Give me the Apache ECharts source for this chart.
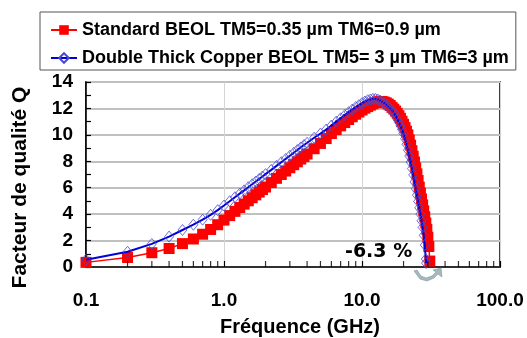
<!DOCTYPE html>
<html>
<head>
<meta charset="utf-8">
<script src="https://cdn.jsdelivr.net/npm/echarts@6/dist/echarts.min.js"></script>
<style>
html,body{margin:0;padding:0;background:#fff;}
#chart{width:527px;height:338px;}
</style>
</head>
<body>
<div id="chart"></div>
<script>
// ---- data ----
const seriesNames = [
  'Standard BEOL TM5=0.35 µm TM6=0.9 µm',
  'Double Thick Copper BEOL TM5= 3 µm TM6=3 µm'
];
const freqStd = [0.1,0.2,0.3,0.4,0.5,0.6,0.7,0.8,0.9,1.0,1.1,1.2,1.3,1.4,1.5,1.6,1.7,1.8,1.9,2.0,
  2.2,2.4,2.6,2.8,3.0,3.2,3.4,3.6,3.8,4.0,4.5,5,5.5,6,6.5,7,7.5,8,8.5,9,9.5,10,
  10.5,11,11.5,12,12.5,13,13.5,14,14.5,15,15.5,16,16.5,17,17.5,18,18.5,19,19.5,20,
  20.5,21,21.5,22,22.5,23,23.5,24,24.5,25,25.5,26,26.5,27,27.5,28,28.5,29,29.5,30,30.5,31];
const qStd = [0.35,0.72,1.08,1.40,1.77,2.12,2.48,2.84,3.2,3.55,3.89,4.21,4.5,4.76,5.01,5.24,5.46,5.67,5.86,6.05,
  6.39,6.71,7.0,7.26,7.51,7.74,7.96,8.17,8.36,8.55,8.95,9.35,9.72,10.1,10.4,10.68,10.93,11.16,11.37,11.56,11.73,11.88,
  12.02,12.14,12.25,12.35,12.43,12.5,12.53,12.52,12.48,12.42,12.33,12.22,12.08,11.95,11.8,11.63,11.45,11.25,11.03,10.8,
  10.55,10.28,10.0,9.62,9.22,8.8,8.38,7.95,7.5,7.05,6.55,6.05,5.6,5.15,4.7,4.25,3.8,3.33,2.85,2.25,1.55,0.45];
const freqDtc = [0.1,0.2,0.3,0.4,0.5,0.6,0.7,0.8,0.9,1.0,1.1,1.2,1.3,1.4,1.5,1.6,1.7,1.8,1.9,2.0,
  2.2,2.4,2.6,2.8,3.0,3.2,3.4,3.6,3.8,4.0,4.5,5,5.5,6,6.5,7,7.5,8,8.5,9,9.5,10,
  10.5,11,11.5,12,12.5,13,13.5,14,14.5,15,15.5,16,16.5,17,17.5,18,18.5,19,19.5,20,
  20.5,21,21.5,22,22.5,23,23.5,24,24.5,25,25.5,26,26.5,27,27.5,28,28.5,29,29.1];
const qDtc = [0.55,1.15,1.75,2.3,2.8,3.2,3.58,3.95,4.3,4.65,4.98,5.28,5.55,5.8,6.04,6.26,6.47,6.67,6.85,7.03,
  7.35,7.65,7.93,8.18,8.42,8.64,8.85,9.05,9.23,9.4,9.78,10.1,10.4,10.7,11.0,11.25,11.5,11.72,11.92,12.1,12.25,12.4,
  12.52,12.62,12.68,12.72,12.72,12.68,12.6,12.5,12.4,12.28,12.15,12.0,11.86,11.7,11.45,11.2,10.95,10.68,10.4,10.1,
  9.71,9.29,8.84,8.4,7.94,7.45,6.97,6.44,5.92,5.44,4.96,4.48,4.0,3.5,3.0,2.4,1.66,0.6,0.3];
const xMinorTickValues = [0.2,0.3,0.4,0.5,0.6,0.7,0.8,0.9,2,3,4,5,6,7,8,9,20,30,40,50,60,70,80,90];
const xTickLabels = {0.1:'0.1', 1:'1.0', 10:'10.0', 100:'100.0'};
const annotationText = '-6.3 %';
const xName = 'Fréquence (GHz)';
const yName = 'Facteur de qualité Q';

const FONT = '"Liberation Sans", Arial, sans-serif';
const chart = echarts.init(document.getElementById('chart'), null, {renderer:'canvas'});

const zip = (xs, ys) => xs.map((x, i) => [x, ys[i]]);

chart.setOption({
  animation: false,
  backgroundColor: '#ffffff',
  grid: {left: 86, right: 27, top: 82, bottom: 71, containLabel: false, outerBoundsMode: 'none',
         show: true, borderColor: '#000', borderWidth: 1.5, backgroundColor: 'transparent'},
  legend: {
    data: seriesNames,
    orient: 'vertical',
    left: 40, top: 12,
    borderColor: '#555', borderWidth: 1,
    padding: [9, 7, 3, 10],
    itemGap: 10,
    itemWidth: 26, itemHeight: 12,
    textStyle: {fontFamily: FONT, fontWeight: 'bold', fontSize: 18, color: '#000'}
  },
  xAxis: {
    type: 'log', logBase: 10, min: 0.1, max: 100,
    name: xName, nameLocation: 'middle', nameGap: 50,
    nameTextStyle: {fontFamily: FONT, fontWeight: 'bold', fontSize: 20, color: '#000', padding: [0, 0, 0, 14]},
    axisLine: {show: true, lineStyle: {color: '#000', width: 1.5}},
    axisTick: {show: true, inside: true, length: 6, lineStyle: {color: '#000', width: 1.2}},
    axisLabel: {fontFamily: FONT, fontWeight: 'bold', fontSize: 19, color: '#000', margin: 24,
      formatter: v => xTickLabels[+v.toPrecision(3)] !== undefined ? xTickLabels[+v.toPrecision(3)] : v.toFixed(1)},
    splitLine: {show: true, lineStyle: {color: '#d4d4d4', width: 1}}
  },
  yAxis: {
    type: 'value', min: 0, max: 14, interval: 2,
    name: yName, nameLocation: 'middle', nameGap: 55, nameRotate: 90,
    nameTextStyle: {fontFamily: FONT, fontWeight: 'bold', fontSize: 21, color: '#000', padding: [0, 26, 0, 0]},
    axisLine: {show: true, lineStyle: {color: '#000', width: 1.5}},
    axisTick: {show: true, inside: true, length: 5, lineStyle: {color: '#000', width: 1.2}},
    minorTick: {show: true, splitNumber: 2, length: 5, lineStyle: {color: '#000', width: 1.2}},
    axisLabel: {fontFamily: FONT, fontWeight: 'bold', fontSize: 19, color: '#000', margin: 13},
    splitLine: {show: true, lineStyle: {color: '#c0c0c0', width: 2}}
  },
  series: [
    {
      name: seriesNames[0], type: 'line', data: zip(freqStd, qStd),
      symbol: 'rect', symbolSize: 11, showAllSymbol: true,
      itemStyle: {color: '#ff0000'},
      lineStyle: {color: '#ff0000', width: 1.5},
      z: 2
    },
    {
      name: seriesNames[1], type: 'line', data: zip(freqDtc, qDtc),
      symbol: 'diamond', symbolSize: [9, 11], showAllSymbol: true,
      itemStyle: {color: 'rgba(255,255,255,0)', borderColor: '#4a4ad0', borderWidth: 0.8},
      lineStyle: {color: '#0000d8', width: 2},
      z: 3
    },
    {
      name: 'xMinorTicks', type: 'scatter', silent: true, clip: false,
      data: xMinorTickValues.map(v => [v, 0]),
      symbol: 'rect', symbolSize: [1.2, 6], symbolOffset: [0, -3],
      itemStyle: {color: '#000'}, z: 5
    }
  ],
  graphic: [
    {type: 'text', left: 345, top: 243, z: 10,
     style: {text: annotationText, fontFamily: '"DejaVu Sans", Verdana, sans-serif', fontWeight: 'bold', fontSize: 19, fill: '#000'}},
    {type: 'polygon', z: 10,
     shape: {points: [[414,271],[420,279],[427,281],[434,278],[438,274],[442,277],[441,268],[433,270],[436,272],[432,276],[426,278],[421,276],[417,270]]},
     style: {fill: '#a4b8be', stroke: '#7f979e', lineWidth: 0.6}}
  ]
});
</script>
</body>
</html>
